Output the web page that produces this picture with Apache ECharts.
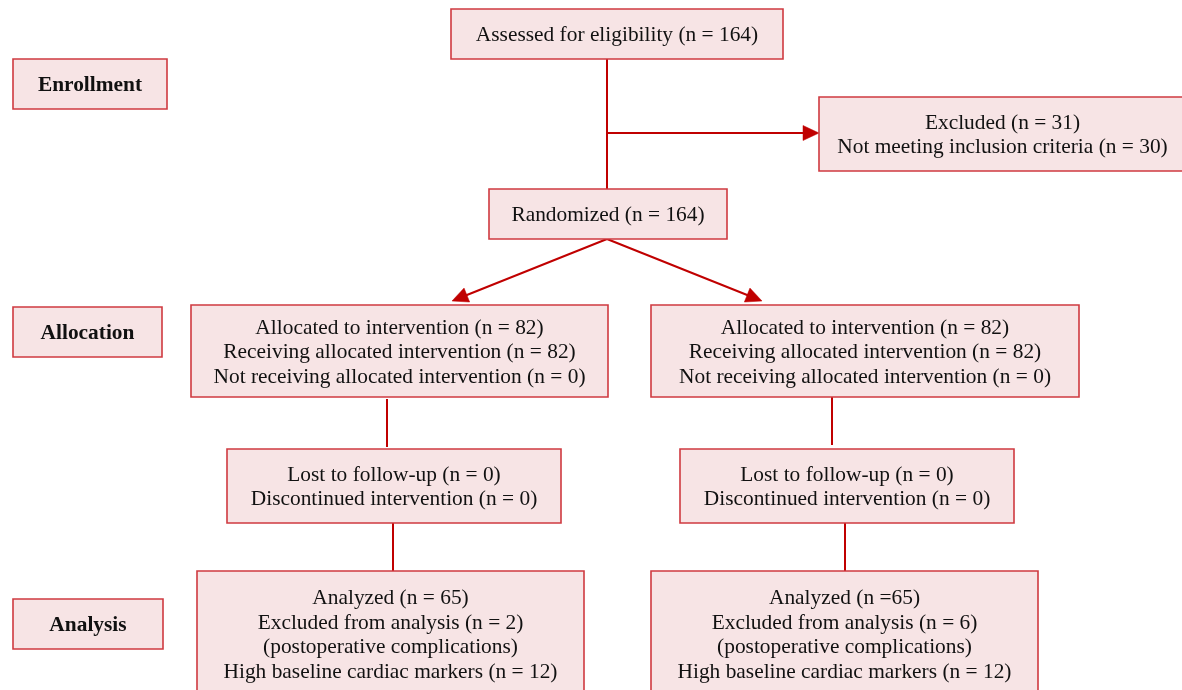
<!DOCTYPE html>
<html>
<head>
<meta charset="utf-8">
<script src="https://cdn.jsdelivr.net/npm/echarts@6/dist/echarts.min.js"></script>
<style>
  html, body { margin: 0; padding: 0; background: #ffffff; }
  #chart { width: 1182px; height: 690px; }
</style>
</head>
<body>
<div id="chart"></div>
<script>
// ---- content (text of the flow diagram) ----
const stageLabels = ['Enrollment', 'Allocation', 'Analysis'];
const assessedText = ['Assessed for eligibility (n = 164)'];
const excludedText = ['Excluded (n = 31)', 'Not meeting inclusion criteria (n = 30)'];
const randomizedText = ['Randomized (n = 164)'];
const allocatedLeft = ['Allocated to intervention (n = 82)', 'Receiving allocated intervention (n = 82)', 'Not receiving allocated intervention (n = 0)'];
const allocatedRight = ['Allocated to intervention (n = 82)', 'Receiving allocated intervention (n = 82)', 'Not receiving allocated intervention (n = 0)'];
const followLeft = ['Lost to follow-up (n = 0)', 'Discontinued intervention (n = 0)'];
const followRight = ['Lost to follow-up (n = 0)', 'Discontinued intervention (n = 0)'];
const analyzedLeft = ['Analyzed (n = 65)', 'Excluded from analysis (n = 2)', '(postoperative complications)', 'High baseline cardiac markers (n = 12)'];
const analyzedRight = ['Analyzed (n =65)', 'Excluded from analysis (n = 6)', '(postoperative complications)', 'High baseline cardiac markers (n = 12)'];

// ---- layout (diagram coordinates, separate from content) ----
const boxTexts = [
  [stageLabels[0]], [stageLabels[1]], [stageLabels[2]],
  assessedText, excludedText, randomizedText,
  allocatedLeft, allocatedRight, followLeft, followRight, analyzedLeft, analyzedRight
];
const boxBold = [true, true, true, false, false, false, false, false, false, false, false, false];
const boxLayout = [
  [13, 59, 167, 109],
  [13, 307, 162, 357],
  [13, 599, 163, 649],
  [451, 9, 783, 59],
  [819, 97, 1186, 171],
  [489, 189, 727, 239],
  [191, 305, 608, 397],
  [651, 305, 1079, 397],
  [227, 449, 561, 523],
  [680, 449, 1014, 523],
  [197, 571, 584, 697],
  [651, 571, 1038, 697]
];
// [x1, y1, x2, y2, hasArrow]
const connectors = [
  [607, 59, 607, 189, 0],
  [607, 133, 819, 133, 1],
  [607, 239, 452, 301, 1],
  [607, 239, 762, 301, 1],
  [387, 399, 387, 447, 0],
  [393, 523, 393, 571, 0],
  [832, 397, 832, 445, 0],
  [845, 523, 845, 571, 0]
];

const FONT = '"Liberation Serif", "Times New Roman", serif';
const FS = 21.4;
const LH = 24.6;
const BOX_FILL = '#F7E4E5';
const BOX_STROKE = '#CF3A40';
const LINE_COLOR = '#C00000';

const chart = echarts.init(document.getElementById('chart'), null, { renderer: 'canvas' });

const option = {
  animation: false,
  backgroundColor: '#ffffff',
  grid: { left: 0, right: 0, top: 0, bottom: 0 },
  xAxis: { type: 'value', min: 0, max: 1182, show: false },
  yAxis: { type: 'value', min: 0, max: 690, inverse: true, show: false },
  series: [
    {
      name: 'connectors',
      type: 'custom',
      coordinateSystem: 'cartesian2d',
      clip: false,
      silent: true,
      data: connectors.map((c, i) => [i]),
      encode: { x: 0, y: 0 },
      renderItem: function (params, api) {
        const c = connectors[api.value(0)];
        const p1 = api.coord([c[0], c[1]]);
        const p2 = api.coord([c[2], c[3]]);
        const children = [];
        if (c[4]) {
          const dx = p2[0] - p1[0], dy = p2[1] - p1[1];
          const len = Math.sqrt(dx * dx + dy * dy);
          const ux = dx / len, uy = dy / len;
          const headL = 16, headW = 7.5;
          const bx = p2[0] - ux * headL, by = p2[1] - uy * headL;
          children.push({
            type: 'line',
            shape: { x1: p1[0], y1: p1[1], x2: bx + ux * 2, y2: by + uy * 2 },
            style: { stroke: LINE_COLOR, lineWidth: 2 }
          });
          children.push({
            type: 'polygon',
            shape: { points: [[p2[0], p2[1]], [bx - uy * headW, by + ux * headW], [bx + uy * headW, by - ux * headW]] },
            style: { fill: LINE_COLOR, stroke: LINE_COLOR, lineWidth: 0.5 }
          });
        } else {
          children.push({
            type: 'line',
            shape: { x1: p1[0], y1: p1[1], x2: p2[0], y2: p2[1] },
            style: { stroke: LINE_COLOR, lineWidth: 2 }
          });
        }
        return { type: 'group', children: children };
      }
    },
    {
      name: 'boxes',
      type: 'custom',
      coordinateSystem: 'cartesian2d',
      clip: false,
      silent: true,
      z: 3,
      data: boxTexts.map((t, i) => [i]),
      encode: { x: 0, y: 0 },
      renderItem: function (params, api) {
        const i = api.value(0);
        const b = boxLayout[i];
        const a = api.coord([b[0], b[1]]);
        const d = api.coord([b[2], b[3]]);
        const lines = boxTexts[i];
        const cx = (a[0] + d[0]) / 2;
        const cy = (a[1] + d[1]) / 2 + 1.5;
        return {
          type: 'group',
          children: [
            {
              type: 'rect',
              shape: { x: a[0], y: a[1], width: d[0] - a[0], height: d[1] - a[1] },
              style: { fill: BOX_FILL, stroke: BOX_STROKE, lineWidth: 1.6 }
            },
            {
              type: 'text',
              style: {
                x: cx,
                y: cy,
                text: lines.join('\n'),
                font: (boxBold[i] ? 'bold ' : '') + FS + 'px ' + FONT,
                fill: '#111111',
                align: 'center',
                verticalAlign: 'middle',
                lineHeight: LH
              }
            }
          ]
        };
      }
    }
  ]
};

chart.setOption(option);
</script>
</body>
</html>
